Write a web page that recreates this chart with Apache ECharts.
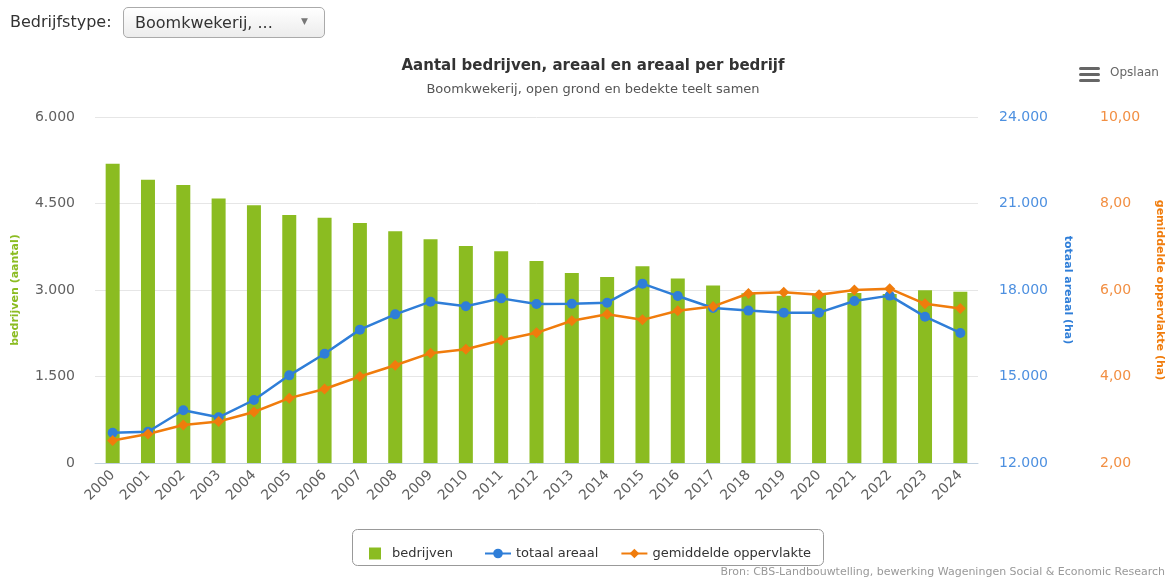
<!DOCTYPE html>
<html>
<head>
<meta charset="utf-8">
<script src="https://cdn.jsdelivr.net/npm/echarts@6/dist/echarts.min.js"></script>
<style>
  html, body { margin: 0; padding: 0; background: #fff; }
  #wrap { position: relative; width: 1168px; height: 581px; font-family: 'DejaVu Sans', Verdana, sans-serif; }
  #chart { position: absolute; left: 0; top: 0; width: 1168px; height: 581px; }
  #lbl { position: absolute; left: 10px; top: 12px; font-size: 16px; color: #333; }
  #sel { position: absolute; left: 123px; top: 7px; width: 200px; height: 29px; border: 1px solid #aaa;
         border-radius: 5px; background: linear-gradient(#fff, #ececec); box-sizing: content-box; z-index: 2; }
  #sel span { position: absolute; left: 11px; top: 5px; font-size: 16px; color: #333; }
  #sel i { position: absolute; right: 16px; top: 8px; font-style: normal; font-size: 9px; color: #777; }
</style>
</head>
<body>
<div id="wrap">
  <div id="chart"></div>
  <div id="lbl">Bedrijfstype:</div>
  <div id="sel"><span>Boomkwekerij, ...</span><i>&#9660;</i></div>
</div>
<script>
// categorieën en reeksen
var jaren = ['2000', '2001', '2002', '2003', '2004', '2005', '2006', '2007', '2008', '2009', '2010', '2011', '2012',
  '2013', '2014', '2015', '2016', '2017', '2018', '2019', '2020', '2021', '2022', '2023', '2024'];
var bedrijven = [5190, 4910, 4820, 4585, 4470, 4300, 4255, 4160, 4020, 3880, 3765, 3670, 3505,
  3295, 3225, 3410, 3200, 3080, 2945, 2900, 2925, 2950, 2930, 2995, 2970];
var totaalAreaal = [13050, 13085, 13830, 13585, 14185, 15040, 15790, 16625, 17155, 17595, 17435, 17710, 17515,
  17525, 17560, 18220, 17790, 17375, 17285, 17215, 17215, 17620, 17805, 17075, 16510];
var gemOppervlakte = [2.52, 2.67, 2.88, 2.96, 3.18, 3.50, 3.71, 4.00, 4.26, 4.54, 4.63, 4.84, 5.01,
  5.29, 5.44, 5.31, 5.52, 5.62, 5.92, 5.95, 5.89, 6.00, 6.03, 5.68, 5.57];

var groen = '#8bbc21', blauw = '#2f7ed8', oranje = '#f07c0c';
var font = 'DejaVu Sans';

function duizend(v) {
  return String(v).replace(/\B(?=(\d{3})+(?!\d))/g, '.');
}

var myChart = echarts.init(document.getElementById('chart'), null, { renderer: 'canvas' });

var option = {
  animation: false,
  textStyle: { fontFamily: font },
  title: {
    text: 'Aantal bedrijven, areaal en areaal per bedrijf',
    subtext: 'Boomkwekerij, open grond en bedekte teelt samen',
    left: 588,
    textAlign: 'center',
    top: 54,
    itemGap: 9,
    textStyle: { fontFamily: font, fontSize: 15, fontWeight: 'bold', color: '#333' },
    subtextStyle: { fontFamily: font, fontSize: 13, color: '#555' }
  },
  grid: { left: 95, right: 190, top: 117, bottom: 118, outerBoundsMode: 'none', containLabel: false },
  legend: [
    {
      data: [{ name: 'bedrijven', icon: 'rect' }],
      left: 364, top: 542,
      itemWidth: 12, itemHeight: 12,
      textStyle: { fontFamily: font, fontSize: 13, color: '#333', padding: [0, 0, 0, 6] }
    },
    {
      data: ['totaal areaal', 'gemiddelde oppervlakte'],
      left: 479, top: 542,
      itemWidth: 26, itemHeight: 12, itemGap: 22,
      textStyle: { fontFamily: font, fontSize: 13, color: '#333' }
    }
  ],
  xAxis: {
    type: 'category',
    data: jaren,
    axisLine: { lineStyle: { color: '#c0d0e0' } },
    axisTick: { length: 12, lineStyle: { color: '#c0d0e0' } },
    axisLabel: { rotate: 45, fontSize: 14, color: '#606060', margin: 10 }
  },
  yAxis: [
    {
      type: 'value', min: 0, max: 6000, interval: 1500,
      name: 'bedrijven (aantal)', nameLocation: 'middle', nameRotate: 90, nameGap: 74,
      nameTextStyle: { color: groen, fontWeight: 'bold', fontSize: 11 },
      axisLabel: { fontSize: 14, color: '#606060', margin: 20, formatter: duizend },
      splitLine: { lineStyle: { color: '#e6e6e6' } }
    },
    {
      type: 'value', min: 12000, max: 24000, interval: 3000, position: 'right',
      name: 'totaal areaal (ha)', nameLocation: 'middle', nameRotate: -90, nameGap: 84,
      nameTextStyle: { color: blauw, fontWeight: 'bold', fontSize: 11 },
      axisLabel: { fontSize: 14, color: '#4d90e0', margin: 21, formatter: duizend },
      splitLine: { show: false }
    },
    {
      type: 'value', min: 2, max: 10, interval: 2, position: 'right', offset: 101,
      name: 'gemiddelde oppervlakte (ha)', nameLocation: 'middle', nameRotate: -90, nameGap: 75,
      nameTextStyle: { color: oranje, fontWeight: 'bold', fontSize: 11 },
      axisLabel: { fontSize: 14, color: '#f28f43', margin: 21, formatter: function (v) { return v.toFixed(2).replace('.', ','); } },
      splitLine: { show: false }
    }
  ],
  series: [
    {
      name: 'bedrijven', type: 'bar', yAxisIndex: 0,
      barWidth: 14,
      itemStyle: { color: groen },
      data: bedrijven
    },
    {
      name: 'totaal areaal', type: 'line', yAxisIndex: 1,
      symbol: 'circle', symbolSize: 10,
      itemStyle: { color: blauw },
      lineStyle: { color: blauw, width: 2.5 },
      data: totaalAreaal
    },
    {
      name: 'gemiddelde oppervlakte', type: 'line', yAxisIndex: 2,
      symbol: 'diamond', symbolSize: 11,
      itemStyle: { color: oranje },
      lineStyle: { color: oranje, width: 2.5 },
      data: gemOppervlakte
    }
  ],
  graphic: [
    // kader om de legenda
    {
      type: 'rect', left: 352, top: 529, z: -1,
      shape: { width: 471, height: 36, r: 5 },
      style: { fill: '#fff', stroke: '#999', lineWidth: 1 }
    },
    // menu-knop
    { type: 'rect', left: 1079, top: 67, shape: { width: 21, height: 3, r: 1.5 }, style: { fill: '#666' } },
    { type: 'rect', left: 1079, top: 73, shape: { width: 21, height: 3, r: 1.5 }, style: { fill: '#666' } },
    { type: 'rect', left: 1079, top: 79, shape: { width: 21, height: 3, r: 1.5 }, style: { fill: '#666' } },
    {
      type: 'text', left: 1110, top: 67,
      style: { text: 'Opslaan', fontFamily: font, fontSize: 12, fill: '#666' }
    },
    // bron
    {
      type: 'text', right: 3, top: 567,
      style: { text: 'Bron: CBS-Landbouwtelling, bewerking Wageningen Social & Economic Research', fontFamily: font, fontSize: 11, fill: '#999' }
    }
  ]
};

myChart.setOption(option);
</script>
</body>
</html>
